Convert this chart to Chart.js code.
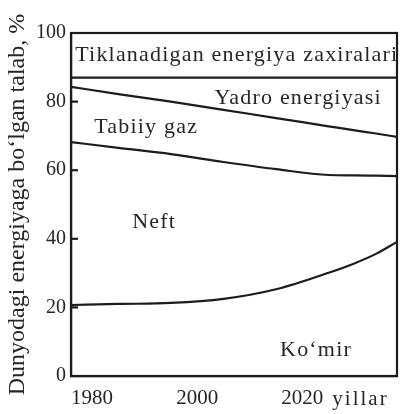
<!DOCTYPE html>
<html>
<head>
<meta charset="utf-8">
<script src="https://cdn.jsdelivr.net/npm/chart.js@4/dist/chart.umd.min.js"></script>
<style>
  html, body { margin: 0; padding: 0; background: #fff; }
</style>
</head>
<body>
<canvas id="grafik" width="401" height="414"></canvas>
<script>
// Yillar va energiya turlari ulushi (%), rasmdan o'qilgan
const yillar = [1976, 1985, 1995, 2005, 2015, 2025, 2030, 2034, 2038];
const komir = [20.7, 21.0, 21.3, 22.5, 25.3, 30.1, 32.9, 35.6, 39.1];
const neft = [47.5, 45.5, 43.4, 39.9, 35.0, 28.5, 25.6, 22.8, 19.2];
const gaz = [16.1, 15.7, 15.3, 15.2, 14.9, 14.2, 13.1, 12.3, 11.4];
const yadro = [2.7, 4.8, 7.0, 9.4, 11.8, 14.2, 15.4, 16.3, 17.3];
const tiklanadigan = [13, 13, 13, 13, 13, 13, 13, 13, 13];

const yTicks = [0, 20, 40, 60, 80, 100];
const xTicks = [1980, 2000, 2020];

const qora = "#1c1c1c";
const matn = "#262626";
const shrift = "'Liberation Serif', 'DejaVu Serif', serif";

function nuqtalar(qiymatlar) {
  return yillar.map((y, i) => ({ x: y, y: qiymatlar[i] }));
}

function qator(nom, qiymatlar) {
  return {
    label: nom,
    data: nuqtalar(qiymatlar),
    borderColor: qora,
    borderWidth: 2.2,
    pointRadius: 0,
    fill: false,
    cubicInterpolationMode: "monotone"
  };
}

// Maydon ichidagi yozuvlar (yil, foiz)
const yozuvlar = [
  { text: "Tiklanadigan energiya zaxiralari", x: 1976.8, y: 93.5, align: "left" },
  { text: "Yadro energiyasi", x: 2019.2, y: 81.0, align: "center" },
  { text: "Tabiiy gaz", x: 1990.3, y: 72.4, align: "center" },
  { text: "Neft", x: 1991.8, y: 44.9, align: "center" },
  { text: "Koʻmir", x: 2022.6, y: 7.6, align: "center" }
];

const bezak = {
  id: "bezak",
  afterDatasetsDraw(chart) {
    const { ctx, chartArea: a, scales } = chart;
    ctx.save();
    // ramka
    ctx.strokeStyle = qora;
    ctx.lineWidth = 2.2;
    ctx.strokeRect(a.left, a.top, a.right - a.left, a.bottom - a.top);
    // ichkariga qaragan belgilar
    yTicks.forEach(v => {
      if (v === 0 || v === 100) return;
      const py = scales.y.getPixelForValue(v);
      ctx.beginPath();
      ctx.moveTo(a.left, py);
      ctx.lineTo(a.left + 7, py);
      ctx.stroke();
    });
    // yozuvlar
    ctx.fillStyle = matn;
    ctx.font = "22px " + shrift;
    ctx.letterSpacing = "1.2px";
    ctx.textBaseline = "middle";
    yozuvlar.forEach(t => {
      ctx.textAlign = t.align;
      ctx.fillText(t.text, scales.x.getPixelForValue(t.x), scales.y.getPixelForValue(t.y));
    });
    // "yillar"
    ctx.font = "21px " + shrift;
    ctx.letterSpacing = "2px";
    ctx.textAlign = "left";
    ctx.textBaseline = "alphabetic";
    ctx.fillText("yillar", scales.x.getPixelForValue(2020) + 30, a.bottom + 29);
    ctx.restore();
  }
};

new Chart(document.getElementById("grafik"), {
  type: "line",
  data: {
    datasets: [
      qator("Koʻmir", komir),
      qator("Neft", neft),
      qator("Tabiiy gaz", gaz),
      qator("Yadro energiyasi", yadro),
      qator("Tiklanadigan energiya zaxiralari", tiklanadigan)
    ]
  },
  options: {
    responsive: false,
    animation: false,
    layout: { padding: { top: 33, right: 4, left: 0, bottom: 0 } },
    plugins: { legend: { display: false }, tooltip: { enabled: false } },
    scales: {
      x: {
        type: "linear",
        min: 1976,
        max: 2038,
        afterBuildTicks: s => { s.ticks = xTicks.map(v => ({ value: v })); },
        afterFit: s => { s.height = 38; },
        grid: { display: false, drawTicks: false },
        border: { display: true, color: qora, width: 2.2 },
        ticks: { color: matn, font: { family: shrift, size: 21 }, padding: 10, maxRotation: 0,
          callback: v => String(v) }
      },
      y: {
        stacked: true,
        min: 0,
        max: 100,
        afterBuildTicks: s => { s.ticks = yTicks.map(v => ({ value: v })); },
        afterFit: s => { s.width = 71; },
        grid: { display: false, drawTicks: false },
        border: { display: true, color: qora, width: 2.2 },
        ticks: { color: matn, font: { family: shrift, size: 20 }, padding: 5 },
        title: {
          display: true,
          text: "Dunyodagi energiyaga boʻlgan talab, %",
          color: matn,
          font: { family: shrift, size: 24 },
          padding: { top: 3, bottom: 0 }
        }
      }
    }
  },
  plugins: [bezak]
});
</script>
</body>
</html>
